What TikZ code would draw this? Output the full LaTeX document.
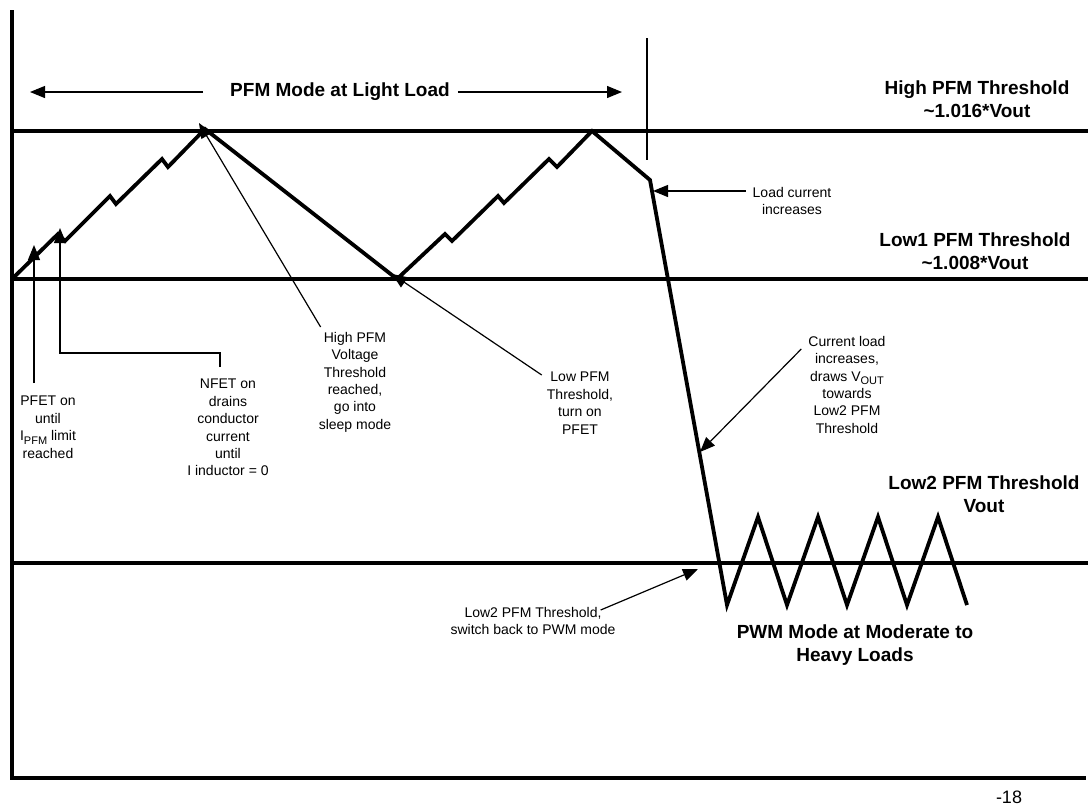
\documentclass[tikz,border=0pt]{standalone}
\usepackage{fontspec}
\setmainfont{Liberation Sans}
\usetikzlibrary{positioning,arrows.meta}
\usetikzlibrary{calc}
\newcommand{\lowtxt}[1]{\raisebox{-0.25em}{\fontsize{11}{11}\selectfont #1}}

\begin{document}
\begin{tikzpicture}[x=1pt, y=-1pt, font=\fontsize{14}{17.4}\selectfont,
  wave/.style={line width=3.8pt, line join=miter, line cap=butt},
  level/.style={line width=3.8pt},
  tip/.style={-{Triangle[length=15pt, width=12pt]}, line width=1.2pt},
  note/.style={align=center, inner sep=0pt, anchor=north},
  head/.style={align=center, inner sep=0pt, anchor=north, font=\fontsize{19}{23}\selectfont\bfseries}]
\useasboundingbox (0,0) rectangle (1088,806);
% axes and threshold levels
\draw[level] (12,10) -- (12,778) -- (1086,778);
\foreach \yy in {131,279,563} \draw[level] (12,\yy) -- (1088,\yy);
\draw[line width=1.2pt] (647,38) -- (647,160);
% output voltage
\draw[wave] (12,279) -- (58,234) -- (65,241) -- (110,196) -- (116,204) -- (162,159) -- (168,167) -- (205,129)
  -- (397,279) -- (445,234) -- (452,241) -- (498,196) -- (504,203) -- (549,159) -- (557,167) -- (592,131)
  -- (650,180) -- (727,605) \foreach \k in {0,...,3} { -- ({758+60*\k},517) -- ({787+60*\k},605) };
\coordinate (pfetTip) at (34,245); \coordinate (nfetTip) at (60,228);
\coordinate (peakTip) at (199,123); \coordinate (valleyTip) at (392,274);
\coordinate (loadTip) at (653,191); \coordinate (dropTip) at (700,452);
\coordinate (pwmTip) at (698,569);
\coordinate (leftTip) at (30,92); \coordinate (rightTip) at (622,92);
% labels
\node[head, anchor=center] (pfm) at (340,92) {PFM Mode at Light Load};
\draw[tip] ([xshift=-27pt]pfm.west) -- (leftTip);
\draw[tip] ([xshift=8pt]pfm.east) -- (rightTip);
\node[head] (highlvl) at (977,81) {High PFM Threshold\\\textasciitilde1.016*Vout};
\node[head] (low1lvl) at (975,233) {Low1 PFM Threshold\\\textasciitilde1.008*Vout};
\node[head] (low2lvl) at (984,476) {Low2 PFM Threshold\\Vout};
\node[head] (pwm) at (855,625) {PWM Mode at Moderate to\\Heavy Loads};
\node[note] (pfet) at (48,396) {PFET on\\until\\I\lowtxt{PFM} limit\\reached};
\node[note] (nfet) at (228,379) {NFET on\\drains\\conductor\\current\\until\\I inductor = 0};
\node[note] (highnote) at (355,332) {High PFM\\Voltage\\Threshold\\reached,\\go into\\sleep mode};
\node[note] (lownote) at (580,372) {Low PFM\\Threshold,\\turn on\\PFET};
\node[note] (loadnote) at (792,187) {Load current\\increases};
\node[note] (dropnote) at (847,336) {Current load\\increases,\\draws V\lowtxt{OUT}\\towards\\Low2 PFM\\Threshold};
\node[note] (low2note) at (533,607) {Low2 PFM Threshold,\\switch back to PWM mode};
\node[inner sep=0pt, anchor=base, font=\fontsize{18}{22}\selectfont] (pagenum) at (1009,803) {-18};
% leaders
\draw[tip] ($(pfet.north)+(-14,-13)$) -- (pfetTip);
\draw[tip] ($(nfet.north)+(-8,-12)$) -- ++(0,-14) -| (nfetTip);
\draw[tip] ($(highnote.north west)+(2,-5)$) -- (peakTip);
\draw[tip] ($(lownote.north west)+(-5,3)$) -- (valleyTip);
\draw[tip] ($(loadnote.north west)+(-7,4)$) -- (loadTip);
\draw[tip] ($(dropnote.north west)+(-7,13)$) -- (dropTip);
\draw[tip] ($(low2note.north east)+(-15,3)$) -- (pwmTip);
\end{tikzpicture}
\end{document}
